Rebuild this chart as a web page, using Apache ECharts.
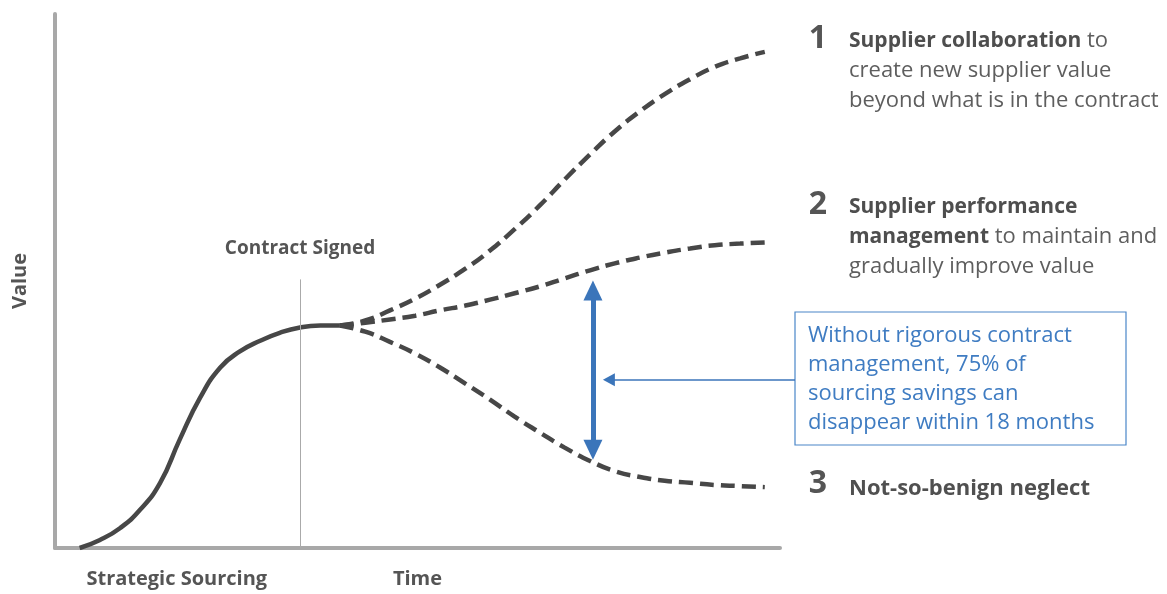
<!DOCTYPE html>
<html><head><meta charset="utf-8">
<script src="https://cdn.jsdelivr.net/npm/echarts@6/dist/echarts.min.js"></script>
<style>html,body{margin:0;padding:0;background:#fff}#c{width:1167px;height:594px}</style>
</head><body><div id="c"></div>
<script>
// Time (0-100) and Value (0-100) in abstract units
const sourcingTime  = [3.4, 6.2, 9.0, 11.7, 14.5, 17.2, 20.0, 22.8, 25.5, 28.3, 31.0, 33.8, 36.6, 39.3];
const sourcingValue = [0, 1.5, 3.75, 7.1, 12.2, 20.3, 28.1, 33.8, 36.8, 38.8, 40.3, 41.3, 41.65, 41.65];
const branchTime = [39.3, 42.8, 46.2, 49.7, 53.1, 56.6, 60.0, 63.4, 66.9, 70.3, 73.8, 77.2, 80.7, 84.1, 87.6, 91.0, 94.5, 97.9];
const collaborationValue = [41.65, 42.6, 44.5, 46.7, 49.3, 52.3, 55.7, 59.7, 64.2, 69.0, 73.7, 78.0, 81.8, 85.0, 87.8, 90.1, 91.7, 92.9];
const performanceValue   = [41.65, 42.2, 42.8, 43.5, 44.5, 45.4, 46.5, 47.7, 49.0, 50.5, 52.0, 53.3, 54.4, 55.3, 56.1, 56.7, 57.0, 57.2];
const neglectValue       = [41.65, 40.5, 38.6, 36.4, 33.8, 30.8, 27.8, 24.6, 21.6, 18.8, 16.3, 14.4, 13.3, 12.6, 12.2, 11.8, 11.6, 11.4];
const contractSigned = 33.8;
const strategicSourcingX = 16.8;
const gapTime = 74.2, gapLow = 18.4, gapHigh = 48.2, calloutValue = 31.5, calloutTip = 76.4;
const xLabels = ['Strategic Sourcing'];
const axisNames = {x:'Time', y:'Value'};

const zip = (xs, ys) => xs.map((x, i) => [x, ys[i]]);
const chart = echarts.init(document.getElementById('c'));
const dark = '#474747';
const dashed = {color: dark, width: 4.5, type: [14, 7]};
const blue = '#3b75ba';
const boldLabel = {fontFamily:'Open Sans', fontSize:20, fontWeight:'bold', color:'#555'};
const BOX_LEFT = 795;
const SMOOTH = 0.5;

function buildOption(calloutPixelY){
  const arrows = [
    [{coord:[gapTime,gapLow], symbol:'triangle', symbolSize:[19,20], symbolRotate:180, lineStyle:{color:blue,width:5,type:'solid'}},
     {coord:[gapTime,gapHigh], symbol:'triangle', symbolSize:[19,20]}]
  ];
  if (calloutPixelY != null) {
    arrows.push([{x:BOX_LEFT, y:calloutPixelY, symbol:'none', lineStyle:{color:blue,width:1.5,type:'solid'}},
                 {coord:[calloutTip,calloutValue], symbol:'triangle', symbolSize:[13,12]}]);
  }
  const numStyle = (t, y) => ({type:'text', x:818, y:y, style:{text:t, font:'bold 32px "Open Sans"', fill:'#555', align:'center', verticalAlign:'middle'}});
  return {
  animation:false,
  grid:{left:55, right:387, top:14, bottom:46, outerBoundsMode:'none', containLabel:false},
  xAxis:{type:'value', min:0, max:100, name:axisNames.x, nameLocation:'middle', nameGap:21, nameMoveOverlap:false,
    nameTextStyle:boldLabel,
    axisLine:{show:true, onZero:false, lineStyle:{color:'#a8a8a8', width:4}},
    axisTick:{show:false}, splitLine:{show:false},
    axisLabel:{customValues:[strategicSourcingX], formatter:()=>xLabels[0], margin:21,
      fontFamily:'Open Sans', fontSize:20, fontWeight:'bold', color:'#555'}},
  yAxis:{type:'value', min:0, max:100, name:axisNames.y, nameLocation:'middle', nameGap:25, nameRotate:90, nameMoveOverlap:false,
    nameTextStyle:boldLabel,
    axisLine:{show:true, onZero:false, lineStyle:{color:'#a8a8a8', width:4}},
    axisTick:{show:false}, splitLine:{show:false}, axisLabel:{show:false}},
  series:[
    {type:'line', data:zip(sourcingTime, sourcingValue), smooth:SMOOTH, symbol:'none', lineStyle:{color:dark, width:4.5}, z:3,
      markLine:{silent:true, symbol:'none', animation:false,
        lineStyle:{color:'#aaa', width:1, type:'solid'},
        label:{show:true, position:'end', formatter:'Contract Signed', distance:21,
          fontFamily:'Open Sans', fontSize:19, fontWeight:'bold', color:'#555'},
        data:[[{coord:[contractSigned,0]},{coord:[contractSigned,50.3]}]]}},
    {type:'line', data:zip(branchTime, collaborationValue), smooth:SMOOTH, symbol:'none', lineStyle:dashed, z:3},
    {type:'line', data:zip(branchTime, performanceValue), smooth:SMOOTH, symbol:'none', lineStyle:dashed, z:3},
    {type:'line', data:zip(branchTime, neglectValue), smooth:SMOOTH, symbol:'none', lineStyle:dashed, z:3},
    {type:'line', data:[], clip:false, z:4,
      markLine:{silent:true, animation:false, label:{show:false}, data:arrows}}
  ],
  graphic:[
    numStyle('1', 39),
    {type:'text', left:849, top:26, style:{text:'{b|Supplier collaboration} to\ncreate new supplier value\nbeyond what is in the contract',
      font:'22px "Open Sans"', fill:'#5e5e5e', lineHeight:30, rich:{b:{fontWeight:'bold', fontSize:21, fontFamily:'Open Sans', fill:'#4e4e4e', lineHeight:30}}}},
    numStyle('2', 205),
    {type:'text', left:849, top:192, style:{text:'{b|Supplier performance}\n{b|management} to maintain and\ngradually improve value',
      font:'22px "Open Sans"', fill:'#5e5e5e', lineHeight:30, rich:{b:{fontWeight:'bold', fontSize:21, fontFamily:'Open Sans', fill:'#4e4e4e', lineHeight:30}}}},
    numStyle('3', 484),
    {type:'text', left:849, top:478, style:{text:'Not-so-benign neglect', font:'bold 22px "Open Sans"', fill:'#505050'}},
    {type:'rect', shape:{x:BOX_LEFT, y:312, width:331, height:133}, style:{fill:'#fff', stroke:'#4a86c8', lineWidth:1.2}},
    {type:'text', left:808, top:321, style:{text:'Without rigorous contract\nmanagement, 75% of\nsourcing savings can\ndisappear within 18 months',
      font:'22px "Open Sans"', fill:'#3f7cc2', lineHeight:29}}
  ]
  };
}
chart.setOption(buildOption(null));
const py = chart.convertToPixel({gridIndex:0}, [calloutTip, calloutValue])[1];
chart.setOption(buildOption(py), true);
</script></body></html>
